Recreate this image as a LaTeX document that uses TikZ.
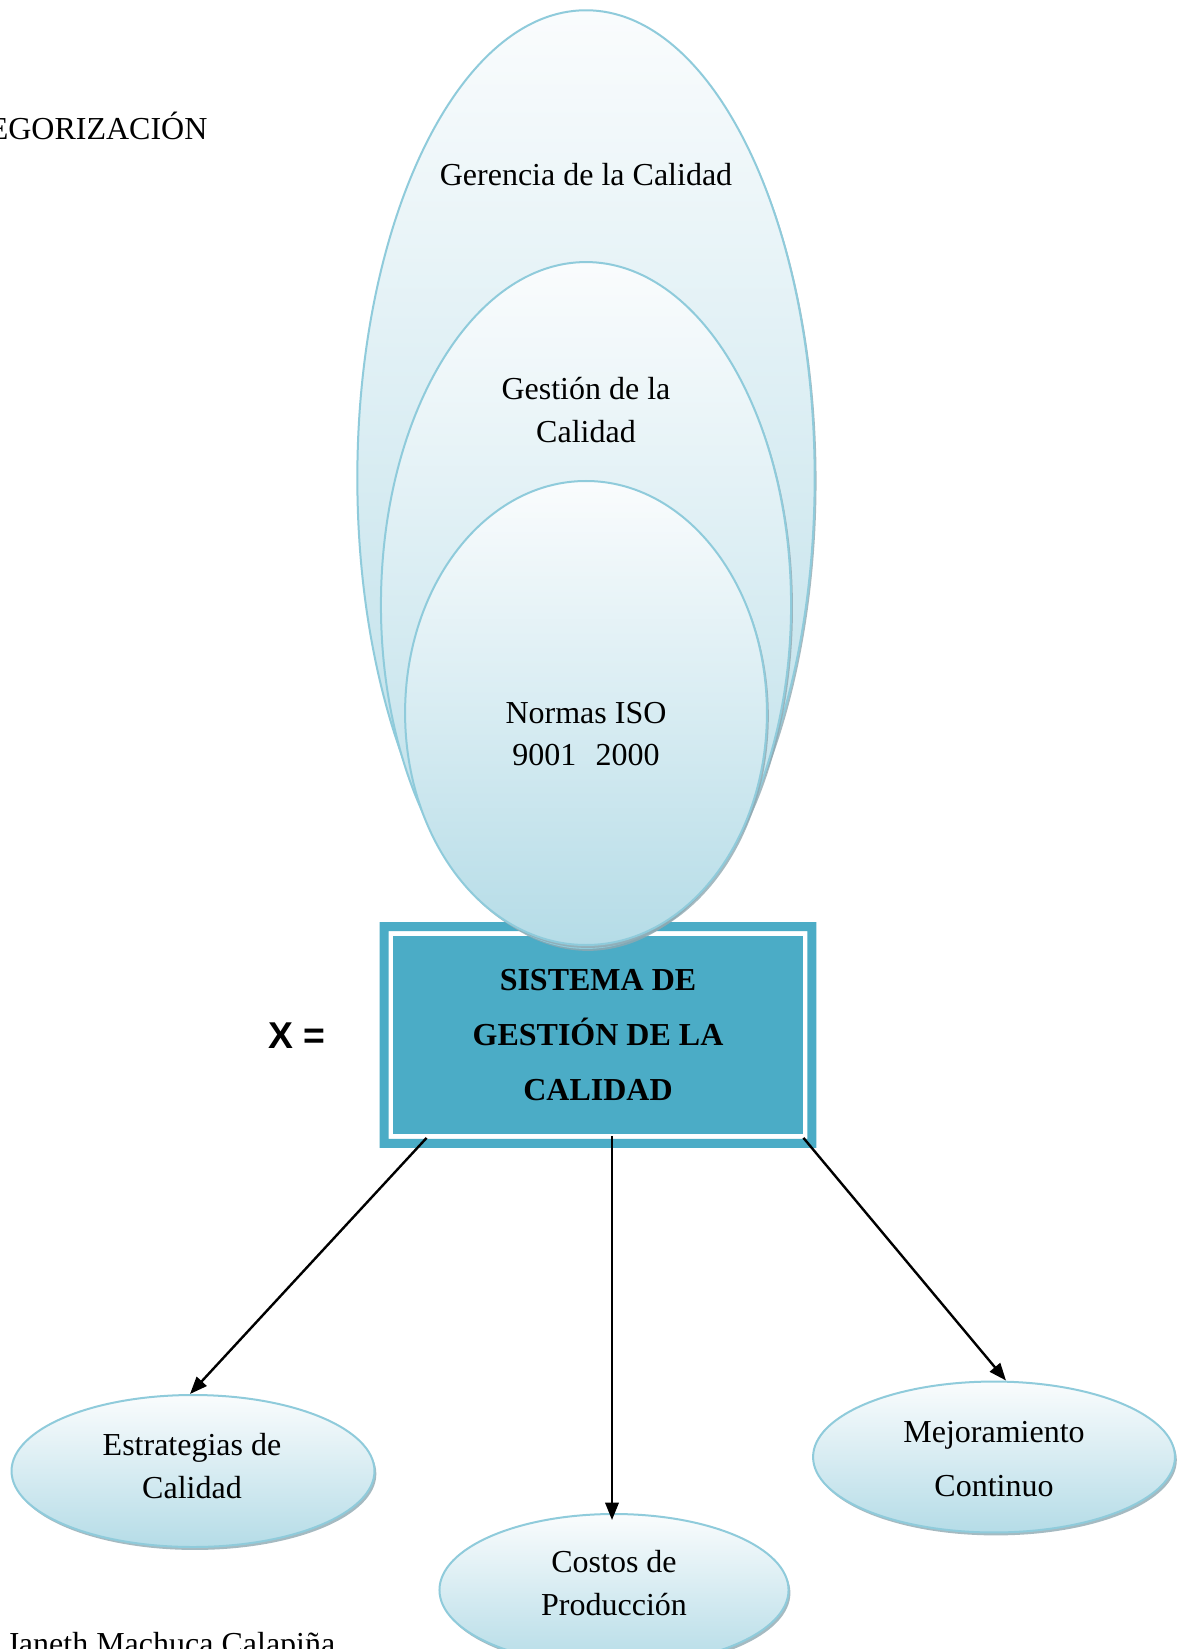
\documentclass[tikz,border=0pt]{standalone}
\usepackage{fontspec}
\setmainfont{Liberation Serif}
\newfontfamily\xsans{Liberation Sans}
\usetikzlibrary{shapes.geometric,shadows,calc,arrows.meta}
\definecolor{tealbox}{HTML}{4BACC6}
\definecolor{ovalline}{HTML}{8FCBDB}
\definecolor{ovaltop}{HTML}{FAFCFD}
\definecolor{ovalbot}{HTML}{B5DCE7}
\definecolor{ovalshadow}{HTML}{8FA9B2}
\begin{document}
\begin{tikzpicture}[x=0.375pt,y=-0.375pt,
  oval/.style={ellipse, draw=ovalline, line width=0.75pt, top color=ovaltop,
    bottom color=ovalbot, inner sep=0pt,
    drop shadow={shadow xshift=0.7pt, shadow yshift=-1.1pt, fill=ovalshadow, opacity=0.8}},
  txt/.style={font=\fontsize{12}{15.8}\selectfont, align=center, inner sep=0pt},
  wide/.style={font=\fontsize{12}{20.4}\selectfont, align=center, inner sep=0pt},
  boxtxt/.style={font=\fontsize{12}{20.6}\selectfont\bfseries, align=center, inner sep=0pt},
  arr/.style={draw=black, line width=0.9pt, -{Triangle[length=6.5pt,width=5pt]}}]
\useasboundingbox (0,0) rectangle (1183,1649);
\fill[white] (0,0) rectangle (1183,1649);

% heading fragments and author line
\node[txt, anchor=base east] (head) at (208,140) {EGORIZACIÓN};
\node[txt, anchor=base west] (author) at (6,1654) {Janeth Machuca Calapiña};

% central box with double border
\node[minimum width=154.9pt, minimum height=75.75pt, fill=tealbox, draw=white,
      line width=1.4pt, inner sep=0pt] (sgc) at (598,1035) {};
\fill[tealbox, even odd rule] ($(sgc.north west)+(-10,-10)$) rectangle ($(sgc.south east)+(10,10)$)
   ($(sgc.north west)+(-1,-1)$) rectangle ($(sgc.south east)+(1,1)$);
\node[boxtxt] (sgct) at (598,1035) {SISTEMA DE\\GESTIÓN DE LA\\CALIDAD};
\node[font=\xsans\fontsize{14}{16}\selectfont\bfseries, inner sep=0pt] (xeq) at (297,1036) {X =};

% nested ovals above the box
\node[oval, minimum width=171.5pt, minimum height=350.8pt] (ger) at (586,478) {};
\node[oval, minimum width=153.8pt, minimum height=257.2pt] (ges) at (586,605) {};
\node[oval, minimum width=135.7pt, minimum height=174pt] (iso) at (586,713) {};
\node[txt] (gert) at (586,175) {Gerencia de la Calidad};
\node[txt] (gest) at (586,410) {Gestión de la\\Calidad};
\node[txt] (isot) at (586,734) {Normas ISO\\9001\hspace{0.6em}2000};

% lower ovals
\node[oval, minimum width=136.1pt, minimum height=57pt] (est) at (193,1471) {};
\node[oval, minimum width=130.9pt, minimum height=57pt] (prod) at (614,1590) {};
\node[oval, minimum width=135.7pt, minimum height=56.6pt] (mej) at (994,1457) {};
\node[txt] (estt) at (192,1466) {Estrategias de\\Calidad};
\node[txt] (prodt) at (614,1583) {Costos de\\Producción};
\node[wide] (mejt) at (994,1459) {Mejoramiento\\Continuo};

% connectors
\draw[arr] ($(sgc.south west)+(37,0)$) -- ($(est.north)+(-3,0)$);
\draw[arr] ($(sgc.south)+(14,-2)$) -- ($(prod.north)+(-2,7)$);
\draw[arr] ($(sgc.south east)+(-3,0)$) -- ($(mej.north)+(12,0)$);
\end{tikzpicture}
\end{document}
